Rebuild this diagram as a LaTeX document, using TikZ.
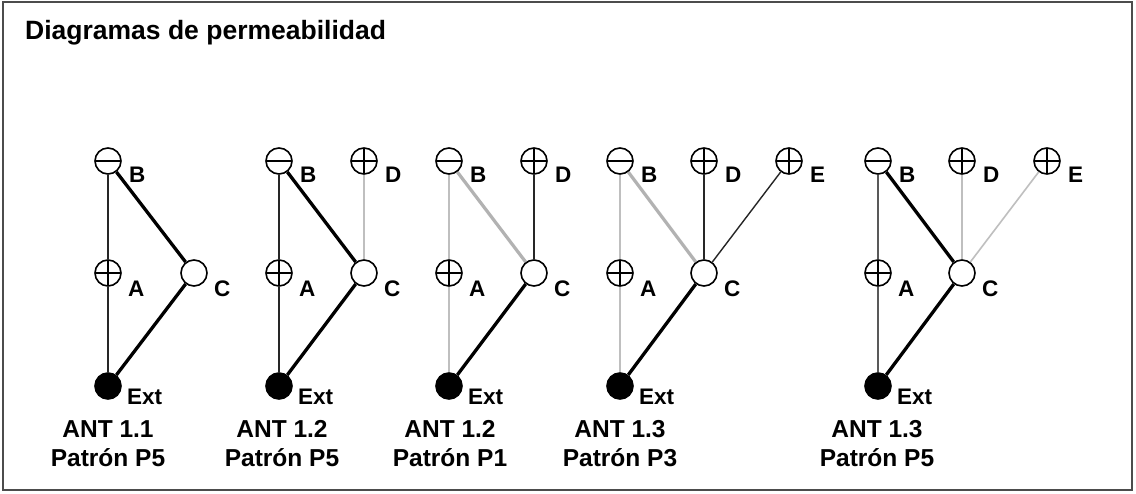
\documentclass[tikz,border=0pt]{standalone}
\usepackage{fontspec}
\setmainfont{Liberation Sans}
\usetikzlibrary{backgrounds}
\begin{document}
\begin{tikzpicture}[x=1pt,y=-1pt,
  nd/.style={circle, draw, line width=1.6pt, fill=white, minimum size=26pt, inner sep=0pt},
  plusn/.style={nd, path picture={\draw[line width=1.3pt] (path picture bounding box.west) -- (path picture bounding box.east) (path picture bounding box.north) -- (path picture bounding box.south);}},
  minusn/.style={nd, path picture={\draw[line width=1.3pt] (path picture bounding box.west) -- (path picture bounding box.east);}},
  extn/.style={nd, fill=black},
  lbl/.style={anchor=base west, font=\bfseries\fontsize{22.5}{22.5}\selectfont, inner sep=0pt},
  ant/.style={anchor=base, font=\bfseries\fontsize{24.5}{24.5}\selectfont, inner sep=0pt},
  lnthin/.style={line width=1.4pt, black!85},
  lnthick/.style={line width=3.3pt, black},
  lnlight/.style={line width=1.6pt, black!25},
  lnlightthick/.style={line width=3.2pt, black!30},
  lndark/.style={line width=1.6pt, black!65},
  frame/.style={draw=black!70, line width=1.2pt, fill=white}
]
\useasboundingbox (0,0) rectangle (1136,494);
\node[anchor=base west, inner sep=0pt, font=\bfseries\fontsize{26.5}{26.5}\selectfont] (title) at (25,40) {Diagramas de permeabilidad};

% ---------- Diagram 1
\node[minusn] (b1) at (108,161) {};
\node[plusn] (a1) at (108,273) {};
\node[nd] (c1) at (194,273) {};
\node[extn] (x1) at (108,386) {};
\node[lbl] (lb1) at (129,183) {B};
\node[lbl] (la1) at (128,297) {A};
\node[lbl] (lc1) at (214,297) {C};
\node[lbl] (lx1) at (127,405) {Ext};
\node[ant] (t1) at (108,438) {ANT 1.1};
\node[ant] (p1) at (108,466) {Patrón P5};

% ---------- Diagram 2
\node[minusn] (b2) at (279,161) {};
\node[plusn] (a2) at (279,273) {};
\node[nd] (c2) at (364,273) {};
\node[plusn] (d2) at (364,161) {};
\node[extn] (x2) at (279,386) {};
\node[lbl] (lb2) at (300,183) {B};
\node[lbl] (la2) at (299,297) {A};
\node[lbl] (lc2) at (384,297) {C};
\node[lbl] (ld2) at (385,183) {D};
\node[lbl] (lx2) at (298,405) {Ext};
\node[ant] (t2) at (282,438) {ANT 1.2};
\node[ant] (p2) at (282,466) {Patrón P5};

% ---------- Diagram 3
\node[minusn] (b3) at (449,161) {};
\node[plusn] (a3) at (449,273) {};
\node[nd] (c3) at (534,273) {};
\node[plusn] (d3) at (534,161) {};
\node[extn] (x3) at (449,386) {};
\node[lbl] (lb3) at (470,183) {B};
\node[lbl] (la3) at (469,297) {A};
\node[lbl] (lc3) at (554,297) {C};
\node[lbl] (ld3) at (555,183) {D};
\node[lbl] (lx3) at (468,405) {Ext};
\node[ant] (t3) at (450,438) {ANT 1.2};
\node[ant] (p3) at (450,466) {Patrón P1};

% ---------- Diagram 4
\node[minusn] (b4) at (620,161) {};
\node[plusn] (a4) at (620,273) {};
\node[nd] (c4) at (704,273) {};
\node[plusn] (d4) at (704,161) {};
\node[plusn] (e4) at (789,161) {};
\node[extn] (x4) at (620,386) {};
\node[lbl] (lb4) at (641,183) {B};
\node[lbl] (la4) at (640,297) {A};
\node[lbl] (lc4) at (724,297) {C};
\node[lbl] (ld4) at (725,183) {D};
\node[lbl] (le4) at (810,183) {E};
\node[lbl] (lx4) at (639,405) {Ext};
\node[ant] (t4) at (620,438) {ANT 1.3};
\node[ant] (p4) at (620,466) {Patrón P3};

% ---------- Diagram 5
\node[minusn] (b5) at (878,161) {};
\node[plusn] (a5) at (878,273) {};
\node[nd] (c5) at (962,273) {};
\node[plusn] (d5) at (962,161) {};
\node[plusn] (e5) at (1047,161) {};
\node[extn] (x5) at (878,386) {};
\node[lbl] (lb5) at (899,183) {B};
\node[lbl] (la5) at (898,297) {A};
\node[lbl] (lc5) at (982,297) {C};
\node[lbl] (ld5) at (983,183) {D};
\node[lbl] (le5) at (1068,183) {E};
\node[lbl] (lx5) at (897,405) {Ext};
\node[ant] (t5) at (877,438) {ANT 1.3};
\node[ant] (p5) at (877,466) {Patrón P5};

\begin{pgfonlayer}{background}
\path[frame] (3,2) rectangle (1132,490);
% 1
\draw[lnthin] (b1) -- (a1);
\draw[lnthin] (a1) -- (x1);
\draw[lnthick] (b1) -- (c1);
\draw[lnthick] (c1) -- (x1);
% 2
\draw[lnthin] (b2) -- (a2);
\draw[lnthin] (a2) -- (x2);
\draw[lnthick] (b2) -- (c2);
\draw[lnthick] (c2) -- (x2);
\draw[lnlight] (d2) -- (c2);
% 3
\draw[lnlight] (b3) -- (a3);
\draw[lnlight] (a3) -- (x3);
\draw[lnlightthick] (b3) -- (c3);
\draw[lnthick] (c3) -- (x3);
\draw[lnthin] (d3) -- (c3);
% 4
\draw[lnlight] (b4) -- (a4);
\draw[lnlight] (a4) -- (x4);
\draw[lnlightthick] (b4) -- (c4);
\draw[lnthick] (c4) -- (x4);
\draw[lnthin] (d4) -- (c4);
\draw[lnthin] (e4) -- (c4);
% 5
\draw[lndark] (b5) -- (a5);
\draw[lndark] (a5) -- (x5);
\draw[lnthick] (b5) -- (c5);
\draw[lnthick] (c5) -- (x5);
\draw[lnlight] (d5) -- (c5);
\draw[lnlight] (e5) -- (c5);
\end{pgfonlayer}
\end{tikzpicture}
\end{document}
